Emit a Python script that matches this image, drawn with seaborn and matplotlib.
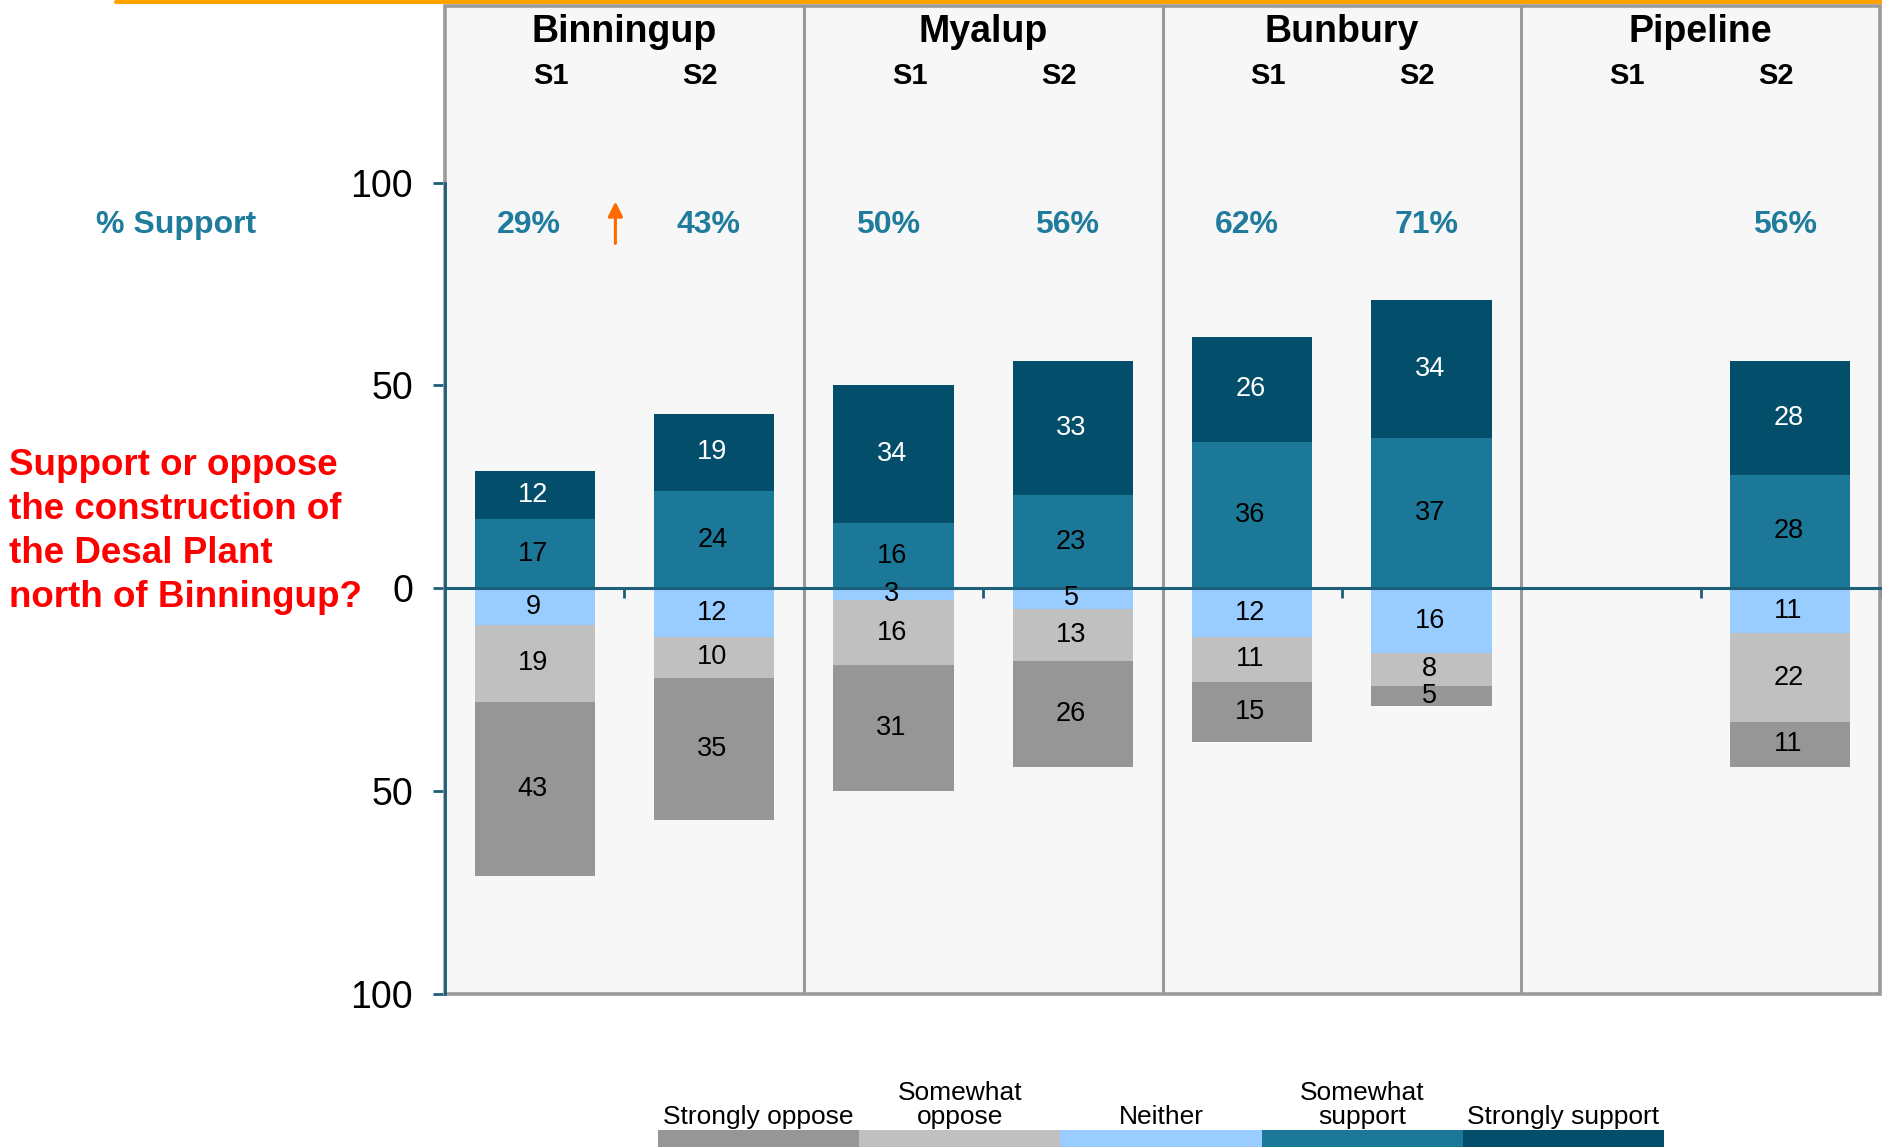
import numpy as np
import pandas as pd
import seaborn as sns
import matplotlib.pyplot as plt
from matplotlib.patches import Rectangle
from matplotlib.lines import Line2D

# data
regions = ['Binningup', 'Myalup', 'Bunbury', 'Pipeline']
surveys = ['S1', 'S2']
bars = [f'{r} {s}' for r in regions for s in surveys]

strongly_support = [12, 19, 34, 33, 26, 34, np.nan, 28]
somewhat_support = [17, 24, 16, 23, 36, 37, np.nan, 28]
neither = [9, 12, 3, 5, 12, 16, np.nan, 11]
somewhat_oppose = [19, 10, 16, 13, 11, 8, np.nan, 22]
strongly_oppose = [43, 35, 31, 26, 15, 5, np.nan, 11]
pct_support = ['29%', '43%', '50%', '56%', '62%', '71%', '', '56%']

legend_labels = ['Strongly oppose', 'Somewhat\noppose', 'Neither',
                 'Somewhat\nsupport', 'Strongly support']
colors = ['#969696', '#c0c0c0', '#99ccff', '#1b7898', '#034f6b']
y_ticks = [-100, -50, 0, 50, 100]
y_ticklabels = ['100', '50', '0', '50', '100']
question = 'Support or oppose\nthe construction of\nthe Desal Plant\nnorth of Binningup?'

teal = '#1d5f78'
pct_color = '#1f7c9c'
frame_gray = '#9a9a9a'

sns.set_style('white')
plt.rcParams['font.family'] = ['Liberation Sans', 'DejaVu Sans']
plt.rcParams['text.color'] = 'black'

df = pd.DataFrame({
    'bar': bars,
    'ss': strongly_support,
    's': somewhat_support,
    'n': neither,
    'so': somewhat_oppose,
    'sto': strongly_oppose,
})
df['pos_top'] = df['s'] + df['ss']
df['neg_all'] = -(df['n'] + df['so'] + df['sto'])
df['neg_mid'] = -(df['n'] + df['so'])
df['neg_n'] = -df['n']

W, H = 1882, 1147
fig = plt.figure(figsize=(W / 100, H / 100), dpi=100)
ax = fig.add_axes([445 / W, 1 - 994 / H, 1435 / W, 988 / H])
ax.set_facecolor('#f7f7f7')

# layered bars: totals first, inner segments drawn over them
layers = [('pos_top', colors[4]), ('s', colors[3]),
          ('neg_all', colors[0]), ('neg_mid', colors[1]), ('neg_n', colors[2])]
for col, c in layers:
    sns.barplot(data=df, x='bar', y=col, order=bars, color=c, saturation=1,
                width=0.67, linewidth=0, errorbar=None, ax=ax, zorder=2)

ax.set_xlim(-0.5, 7.5)
ax.set_ylim(-100, 143.5)
ax.set_xlabel('')
ax.set_ylabel('')

# segment labels
for i in range(len(bars)):
    if np.isnan(strongly_support[i]):
        continue
    s, ss = somewhat_support[i], strongly_support[i]
    n, so, sto = neither[i], somewhat_oppose[i], strongly_oppose[i]
    segs = [(s / 2, s, 'black'), (s + ss / 2, ss, 'white'),
            (-n / 2, n, 'black'), (-(n + so / 2), so, 'black'),
            (-(n + so + sto / 2), sto, 'black')]
    for y, v, tc in segs:
        ax.text(i - 0.01, y, f'{int(v)}', ha='center', va='center',
                fontsize=19.5, color=tc, zorder=4)
    ax.text(i - 0.03, 89.6, pct_support[i], ha='center', va='center',
            fontsize=23, fontweight='bold', color=pct_color)

# region and survey headers
for k, r in enumerate(regions):
    ax.text(2 * k + 0.5, 137.0, r, ha='center', va='center', fontsize=27,
            fontweight='bold', color='black')
    ax.text(2 * k + 0.09, 126.2, surveys[0], ha='center', va='center',
            fontsize=21, fontweight='bold', color='black')
    ax.text(2 * k + 0.92, 126.2, surveys[1], ha='center', va='center',
            fontsize=21, fontweight='bold', color='black')

for xv in [1.5, 3.5, 5.5]:
    ax.axvline(xv, color=frame_gray, lw=2.2, zorder=1)

ax.add_patch(Rectangle((0, 0), 1, 1, transform=ax.transAxes, fill=False,
                       ec=frame_gray, lw=2.6, clip_on=False, zorder=1))

for side in ['top', 'right']:
    ax.spines[side].set_visible(False)
ax.spines['left'].set_color(teal)
ax.spines['left'].set_linewidth(2)
ax.spines['left'].set_bounds(-100, 100)
ax.spines['left'].set_zorder(3)
ax.spines['bottom'].set_position(('data', 0))
ax.spines['bottom'].set_color(teal)
ax.spines['bottom'].set_linewidth(2.2)
ax.spines['bottom'].set_zorder(3)

ax.set_xticks([0.5 + k for k in range(8)])
ax.set_xticklabels([''] * 8)
ax.tick_params(axis='x', bottom=True, direction='out', length=7, width=2,
               color=teal)
ax.set_yticks(y_ticks)
ax.set_yticklabels(y_ticklabels)
ax.tick_params(axis='y', left=True, direction='out', length=9, width=2,
               color=teal, labelsize=27, pad=14, labelcolor='black')

ax.text(-2.0, 89.6, '% Support', ha='center', va='center', fontsize=23,
        fontweight='bold', color=pct_color, clip_on=False)
ax.text(-2.93, 14.0, question, ha='left', va='center', fontsize=26.5,
        fontweight='bold', color='#ff0000', linespacing=1.34, clip_on=False)

ax.annotate('', xy=(0.45, 96), xytext=(0.45, 84.3),
            arrowprops=dict(arrowstyle='-|>', color='#ff6a00', lw=2.2,
                            mutation_scale=22))

# orange rule at the very top
fig.add_artist(Line2D([116 / W, 1], [1 - 1.5 / H] * 2, color='#ffa200', lw=3,
                      transform=fig.transFigure))

# colour key along the bottom edge
lax = fig.add_axes([658 / W, 0, 1006 / W, 17 / H])
lax.set_xlim(0, 5)
lax.set_ylim(0, 1)
lax.axis('off')
for i, (lab, c) in enumerate(zip(legend_labels, colors)):
    lax.add_patch(Rectangle((i, 0), 1, 1, color=c, lw=0))
    lax.text(i + 0.5, 1.05, lab, ha='center', va='bottom', fontsize=19,
             multialignment='center', linespacing=1.0, clip_on=False,
             color='black')

fig.savefig('out.png', dpi=100)
